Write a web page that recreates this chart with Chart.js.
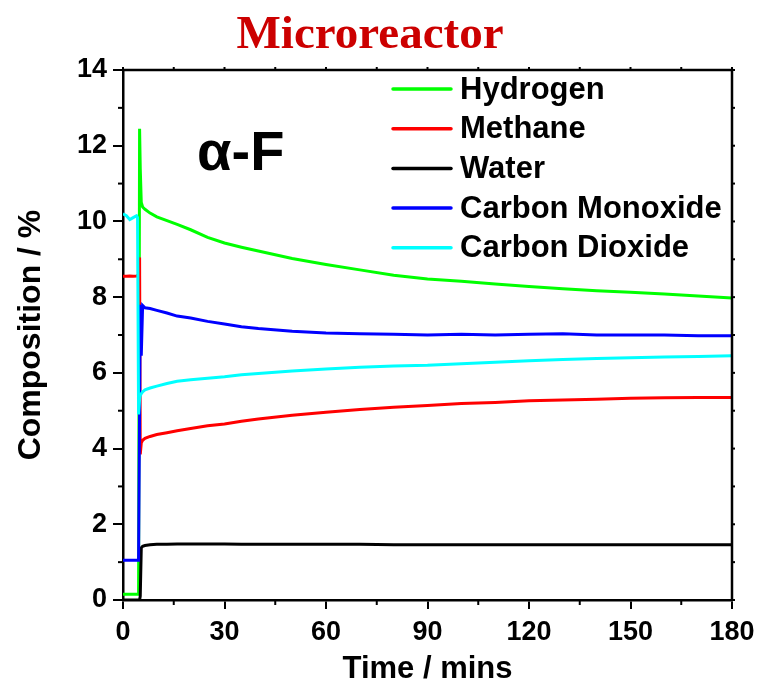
<!DOCTYPE html>
<html>
<head>
<meta charset="utf-8">
<script src="https://cdn.jsdelivr.net/npm/chart.js@4.4.1/dist/chart.umd.min.js"></script>
<style>
  html, body { margin: 0; padding: 0; background: #ffffff; }
  #wrap { width: 758px; height: 683px; position: relative; }
</style>
</head>
<body>
<div id="wrap"><canvas id="c" width="758" height="683"></canvas></div>
<script>
// ---------- data ----------
const chartTitle = 'Microreactor';
const annotationText = 'α-F';
const xTitle = 'Time / mins';
const yTitle = 'Composition / %';

const timeMins = [0, 1, 2, 3, 4, 4.3, 4.6, 4.9, 5.1, 5.4, 5.8, 6.5, 8, 10, 13, 16, 20, 25, 30, 35, 40, 50, 60, 70, 80, 90, 100, 110, 120, 130, 140, 150, 160, 170, 180];

const hydrogen = [0.15, 0.15, 0.15, 0.15, 0.15, 0.15, 0.15, 12.45, 11.4, 10.5, 10.38, 10.32, 10.22, 10.12, 10.02, 9.92, 9.78, 9.58, 9.43, 9.32, 9.22, 9.02, 8.86, 8.72, 8.58, 8.48, 8.42, 8.35, 8.28, 8.22, 8.17, 8.13, 8.08, 8.03, 7.98];
const methane  = [8.55, 8.55, 8.56, 8.55, 8.56, 8.57, 8.6, 9.05, 3.85, 4.15, 4.22, 4.27, 4.32, 4.37, 4.42, 4.47, 4.53, 4.6, 4.65, 4.72, 4.78, 4.88, 4.96, 5.03, 5.09, 5.14, 5.19, 5.22, 5.26, 5.28, 5.3, 5.33, 5.34, 5.35, 5.35];
const water    = [0.0, 0.0, 0.0, 0.0, 0.0, 0.0, 0.0, 0.0, 0.1, 1.38, 1.42, 1.44, 1.46, 1.47, 1.47, 1.48, 1.48, 1.48, 1.48, 1.47, 1.47, 1.47, 1.47, 1.47, 1.46, 1.46, 1.46, 1.46, 1.46, 1.46, 1.46, 1.46, 1.46, 1.46, 1.46];
const carbonMonoxide = [1.05, 1.05, 1.05, 1.05, 1.05, 1.05, 1.05, 5.0, 7.8, 6.45, 7.78, 7.72, 7.7, 7.65, 7.58, 7.5, 7.45, 7.36, 7.29, 7.22, 7.17, 7.1, 7.05, 7.03, 7.02, 7.0, 7.02, 7.0, 7.02, 7.03, 7.0, 7.0, 7.0, 6.98, 6.98];
const carbonDioxide  = [10.2, 10.15, 10.05, 10.1, 10.15, 10.1, 4.9, 5.3, 5.4, 5.45, 5.5, 5.55, 5.6, 5.65, 5.72, 5.78, 5.82, 5.86, 5.9, 5.95, 5.98, 6.05, 6.1, 6.15, 6.18, 6.2, 6.24, 6.28, 6.32, 6.35, 6.38, 6.4, 6.42, 6.43, 6.45];

const seriesNames  = ['Hydrogen', 'Methane', 'Water', 'Carbon Monoxide', 'Carbon Dioxide'];
const seriesValues = [hydrogen, methane, water, carbonMonoxide, carbonDioxide];
const seriesColors = ['#00ff00', '#ff0000', '#000000', '#0000ff', '#00ffff'];

const xMajorTicks = [0, 30, 60, 90, 120, 150, 180];
const xMinorTicks = [15, 45, 75, 105, 135, 165];
const yMajorTicks = [0, 2, 4, 6, 8, 10, 12, 14];
const yMinorTicks = [1, 3, 5, 7, 9, 11, 13];

// ---------- helpers ----------
const SANS = '"Liberation Sans", Arial, Helvetica, sans-serif';
const SERIF = '"Liberation Serif", "Times New Roman", serif';

const datasets = seriesNames.map((name, i) => ({
  label: name,
  data: timeMins.map((t, k) => ({ x: t, y: seriesValues[i][k] })),
  borderColor: seriesColors[i],
  backgroundColor: seriesColors[i],
  borderWidth: 3,
  pointRadius: 0,
  tension: 0,
  fill: false,
  order: seriesNames.length - i
}));

const decorPlugin = {
  id: 'decor',
  afterDraw(chart) {
    const { ctx, chartArea: a, scales: { x, y } } = chart;
    ctx.save();
    ctx.strokeStyle = '#000';
    // frame top & right
    ctx.lineWidth = 2.5;
    ctx.beginPath();
    ctx.moveTo(a.left - 1, a.top);
    ctx.lineTo(a.right, a.top);
    ctx.lineTo(a.right, a.bottom + 1);
    ctx.stroke();

    const seg = (x1, y1, x2, y2) => { ctx.beginPath(); ctx.moveTo(x1, y1); ctx.lineTo(x2, y2); ctx.stroke(); };
    ctx.lineWidth = 2;
    xMinorTicks.forEach(v => { const p = x.getPixelForValue(v); seg(p, a.bottom, p, a.bottom + 5); });
    yMinorTicks.forEach(v => { const p = y.getPixelForValue(v); seg(a.left, p, a.left - 5, p); });
    // mirrored short ticks on top and right
    xMajorTicks.concat(xMinorTicks).forEach(v => { const p = x.getPixelForValue(v); seg(p, a.top, p, a.top - 3); });
    yMajorTicks.concat(yMinorTicks).forEach(v => { const p = y.getPixelForValue(v); seg(a.right, p, a.right + 3, p); });

    // title
    ctx.fillStyle = '#cc0000';
    ctx.font = 'bold 47px ' + SERIF;
    ctx.textAlign = 'center';
    ctx.textBaseline = 'alphabetic';
    ctx.fillText(chartTitle, 370, 48);

    // annotation
    ctx.fillStyle = '#000';
    ctx.font = 'bold 56px ' + SANS;
    ctx.textAlign = 'left';
    ctx.fillText(annotationText, x.getPixelForValue(21.9), y.getPixelForValue(11.36));

    // legend
    const legX1 = 393, legX2 = 451, legTextX = 460, legTop = 89, legStep = 39.7;
    ctx.font = 'bold 31px ' + SANS;
    ctx.textBaseline = 'middle';
    seriesNames.forEach((name, i) => {
      const yy = legTop + i * legStep;
      ctx.strokeStyle = seriesColors[i];
      ctx.lineWidth = 3.5;
      ctx.lineCap = 'round';
      seg(legX1, yy, legX2, yy);
      ctx.fillStyle = '#000';
      ctx.fillText(name, legTextX, yy + 1);
    });
    ctx.restore();
  }
};

new Chart(document.getElementById('c'), {
  type: 'line',
  data: { datasets },
  options: {
    responsive: false,
    animation: false,
    devicePixelRatio: 1,
    layout: { padding: { top: 70, right: 26, left: 0, bottom: 0 } },
    plugins: { legend: { display: false }, tooltip: { enabled: false }, title: { display: false } },
    scales: {
      x: {
        type: 'linear',
        min: 0, max: 180,
        afterFit: s => { s.height = 83; s.paddingLeft = 0; s.paddingRight = 0; },
        afterBuildTicks: s => { s.ticks = xMajorTicks.map(v => ({ value: v })); },
        ticks: { color: '#000', font: { family: SANS, size: 27, weight: 'bold' }, padding: 7, maxRotation: 0, autoSkip: false },
        grid: { display: true, drawOnChartArea: false, drawTicks: true, tickLength: 9, color: '#000', lineWidth: 2 },
        border: { display: true, color: '#000', width: 2.5 },
        title: { display: true, text: xTitle, color: '#000', font: { family: SANS, size: 31, weight: 'bold', lineHeight: 0.8 }, padding: { top: 0, bottom: 1 } }
      },
      y: {
        type: 'linear',
        min: 0, max: 14,
        afterFit: s => { s.width = 123; s.paddingTop = 0; s.paddingBottom = 0; },
        afterBuildTicks: s => { s.ticks = yMajorTicks.map(v => ({ value: v })); },
        ticks: { color: '#000', font: { family: SANS, size: 27, weight: 'bold' }, padding: 6 },
        grid: { display: true, drawOnChartArea: false, drawTicks: true, tickLength: 10, color: '#000', lineWidth: 2 },
        border: { display: true, color: '#000', width: 2.5 },
        title: { display: true, text: yTitle, color: '#000', font: { family: SANS, size: 32, weight: 'bold', lineHeight: 1.0 }, padding: { top: 15, bottom: 0 } }
      }
    }
  },
  plugins: [decorPlugin]
});
</script>
</body>
</html>
